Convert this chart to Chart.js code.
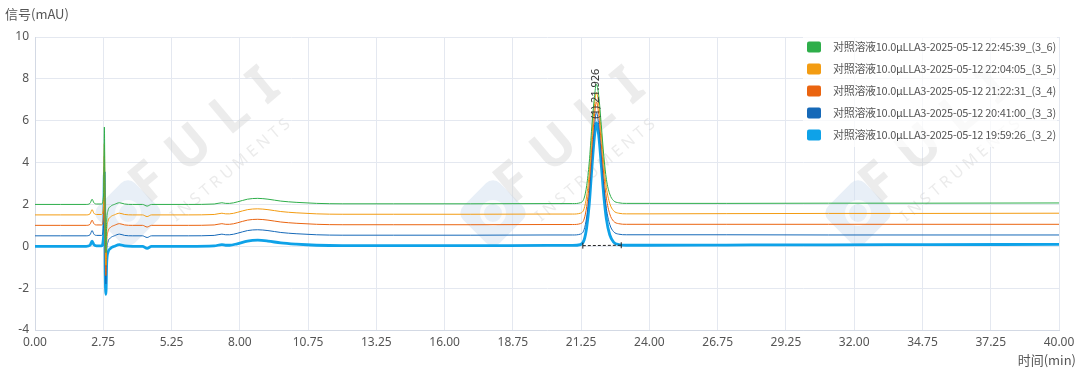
<!DOCTYPE html>
<html>
<head>
<meta charset="utf-8">
<script src="https://cdn.jsdelivr.net/npm/chart.js@4.4.1/dist/chart.umd.min.js"></script>
<style>
html,body{margin:0;padding:0;background:#fff;}
#wrap{position:relative;width:1080px;height:371px;}
</style>
</head>
<body>
<div id="wrap"><canvas id="c"></canvas></div>
<script>
// ---- data ----
const times = [0, 1.0, 2.0, 2.15, 2.23, 2.3, 2.4, 2.6, 2.68, 2.71, 2.74, 2.77, 2.8, 2.85, 2.95, 3.1, 3.3, 3.5, 3.8, 4.2, 4.38, 4.55, 5.0, 6.0, 7.0, 7.3, 7.45, 7.6, 7.9, 8.3, 8.7, 9.1, 9.6, 10.2, 11.0, 12.0, 14.0, 17.0, 20.0, 21.0, 21.3, 21.45, 21.55, 21.65, 21.75, 21.85, 21.93, 22.02, 22.12, 22.22, 22.32, 22.45, 22.6, 22.8, 23.1, 24.0, 27.0, 31.0, 35.0, 40.0];

const run3_6 = [2.0, 2.0, 2.0, 2.05, 2.25, 2.08, 2.02, 2.02, 2.5, 5.7, 1.2, -0.3, 1.2, 1.7, 1.9, 2.0, 2.08, 2.02, 2.0, 2.0, 1.92, 2.0, 2.0, 2.0, 2.02, 2.08, 2.05, 2.05, 2.12, 2.25, 2.29, 2.25, 2.16, 2.1, 2.05, 2.03, 2.03, 2.03, 2.04, 2.04, 2.08, 2.3, 2.9, 4.0, 5.7, 7.1, 7.75, 7.2, 5.8, 4.3, 3.2, 2.5, 2.18, 2.08, 2.05, 2.05, 2.05, 2.06, 2.06, 2.07];
const run3_5 = [1.5, 1.5, 1.5, 1.55, 1.75, 1.58, 1.52, 1.52, 2.0, 4.9, 0.6, -0.9, 0.7, 1.2, 1.4, 1.5, 1.58, 1.52, 1.5, 1.5, 1.42, 1.5, 1.5, 1.5, 1.52, 1.58, 1.55, 1.55, 1.62, 1.75, 1.79, 1.75, 1.66, 1.6, 1.55, 1.53, 1.53, 1.53, 1.54, 1.54, 1.58, 1.8, 2.4, 3.5, 5.2, 6.7, 7.35, 6.8, 5.4, 3.9, 2.8, 2.05, 1.7, 1.58, 1.55, 1.55, 1.56, 1.57, 1.57, 1.58];
const run3_4 = [1.0, 1.0, 1.0, 1.05, 1.25, 1.08, 1.02, 1.02, 1.5, 4.3, 0.0, -1.4, 0.2, 0.7, 0.9, 1.0, 1.08, 1.02, 1.0, 1.0, 0.92, 1.0, 1.0, 1.0, 1.02, 1.08, 1.05, 1.05, 1.12, 1.25, 1.29, 1.25, 1.16, 1.1, 1.05, 1.03, 1.03, 1.03, 1.04, 1.04, 1.08, 1.3, 1.9, 3.0, 4.7, 6.2, 6.9, 6.3, 4.9, 3.4, 2.3, 1.55, 1.2, 1.08, 1.05, 1.05, 1.05, 1.05, 1.05, 1.05];
const run3_3 = [0.5, 0.5, 0.5, 0.55, 0.75, 0.58, 0.52, 0.52, 1.0, 3.8, -0.5, -1.8, -0.3, 0.2, 0.4, 0.5, 0.58, 0.52, 0.5, 0.5, 0.42, 0.5, 0.5, 0.5, 0.52, 0.58, 0.55, 0.55, 0.62, 0.75, 0.79, 0.75, 0.66, 0.6, 0.55, 0.53, 0.53, 0.53, 0.54, 0.54, 0.58, 0.8, 1.4, 2.5, 4.2, 5.7, 6.4, 5.8, 4.4, 2.9, 1.8, 1.05, 0.7, 0.58, 0.55, 0.55, 0.55, 0.54, 0.54, 0.54];
const run3_2 = [0.0, 0.0, 0.0, 0.05, 0.25, 0.08, 0.02, 0.02, 0.5, 3.5, -1.0, -2.3, -0.8, -0.3, -0.1, 0.0, 0.08, 0.02, 0.0, 0.0, -0.1, 0.0, 0.0, 0.0, 0.02, 0.08, 0.05, 0.05, 0.12, 0.25, 0.29, 0.25, 0.16, 0.1, 0.05, 0.03, 0.03, 0.03, 0.04, 0.04, 0.08, 0.3, 0.9, 2.0, 3.7, 5.2, 5.9, 5.3, 3.9, 2.4, 1.3, 0.55, 0.2, 0.08, 0.05, 0.05, 0.06, 0.07, 0.08, 0.09];

const seriesNames = [
  '对照溶液10.0μLLA3-2025-05-12 22:45:39_(3_6)',
  '对照溶液10.0μLLA3-2025-05-12 22:04:05_(3_5)',
  '对照溶液10.0μLLA3-2025-05-12 21:22:31_(3_4)',
  '对照溶液10.0μLLA3-2025-05-12 20:41:00_(3_3)',
  '对照溶液10.0μLLA3-2025-05-12 19:59:26_(3_2)'
];
const seriesColors = ['#2eae4a', '#f39c12', '#ea6410', '#1669b8', '#0ea2e8'];
const seriesWidths = [1, 1, 1, 1, 2.8];
const seriesValues = [run3_6, run3_5, run3_4, run3_3, run3_2];

const xTickLabels = ['0.00','2.75','5.25','8.00','10.75','13.25','16.00','18.75','21.25','24.00','26.75','29.25','32.00','34.75','37.25','40.00'];
const yTicks = [-4, -2, 0, 2, 4, 6, 8, 10];
const peakLabel = '(1) 21.926';
const peakTime = 21.926;
const peakTopValue = 5.9;
const integrationStart = [21.4, 0.03];
const integrationEnd = [22.9, 0.05];

const FONT = '"Noto Sans", "Noto Sans CJK SC", sans-serif';

// ---- plugins ----
const decor = {
  id: 'decor',
  beforeDatasetsDraw(chart) {
    const ctx = chart.ctx, a = chart.chartArea;
    ctx.save();
    ctx.beginPath(); ctx.rect(a.left, a.top, a.right - a.left, a.bottom - a.top); ctx.clip();
    [0, 365, 730].forEach(dx => {
      // icon
      ctx.save();
      ctx.translate(128 + dx, 213);
      ctx.rotate(Math.PI / 4);
      ctx.fillStyle = 'rgba(210,224,240,0.5)';
      const s = 52, r = 10;
      ctx.beginPath();
      ctx.moveTo(-s/2 + r, -s/2);
      ctx.arcTo(s/2, -s/2, s/2, s/2, r);
      ctx.arcTo(s/2, s/2, -s/2, s/2, r);
      ctx.arcTo(-s/2, s/2, -s/2, -s/2, r);
      ctx.arcTo(-s/2, -s/2, s/2, -s/2, r);
      ctx.closePath(); ctx.fill();
      ctx.rotate(-Math.PI / 4);
      ctx.strokeStyle = 'rgba(255,255,255,0.8)';
      ctx.lineWidth = 4;
      ctx.beginPath(); ctx.arc(0, 0, 11, 0, Math.PI * 2); ctx.stroke();
      ctx.restore();
      // FULI
      ctx.save();
      ctx.translate(148 + dx, 205);
      ctx.rotate(-40 * Math.PI / 180);
      ctx.fillStyle = 'rgba(210,210,210,0.42)';
      ctx.font = 'bold 54px ' + FONT;
      ctx.letterSpacing = '18px';
      ctx.textBaseline = 'alphabetic';
      ctx.fillText('FULI', 0, 0);
      ctx.restore();
      // INSTRUMENTS
      ctx.save();
      ctx.translate(176 + dx, 222);
      ctx.rotate(-40 * Math.PI / 180);
      ctx.fillStyle = 'rgba(210,210,210,0.45)';
      ctx.font = '16px ' + FONT;
      ctx.letterSpacing = '4px';
      ctx.fillText('INSTRUMENTS', 0, 0);
      ctx.restore();
    });
    ctx.restore();
  },
  afterDatasetsDraw(chart) {
    const ctx = chart.ctx, xs = chart.scales.x, ys = chart.scales.y;
    ctx.save();
    // integration baseline
    const x1 = xs.getPixelForValue(integrationStart[0]), y1 = ys.getPixelForValue(integrationStart[1]);
    const x2 = xs.getPixelForValue(integrationEnd[0]), y2 = ys.getPixelForValue(integrationEnd[1]);
    ctx.strokeStyle = '#222'; ctx.lineWidth = 1;
    ctx.setLineDash([3, 2]);
    ctx.beginPath(); ctx.moveTo(x1, y1); ctx.lineTo(x2, y2); ctx.stroke();
    ctx.setLineDash([]);
    ctx.beginPath(); ctx.moveTo(x1, y1 - 3); ctx.lineTo(x1, y1 + 3); ctx.moveTo(x2, y2 - 3); ctx.lineTo(x2, y2 + 3); ctx.stroke();
    // peak label
    const px = xs.getPixelForValue(peakTime), py = ys.getPixelForValue(peakTopValue);
    ctx.translate(px, py - 4);
    ctx.rotate(-Math.PI / 2);
    ctx.fillStyle = '#333';
    ctx.font = '11px ' + FONT;
    ctx.textAlign = 'left'; ctx.textBaseline = 'middle';
    ctx.fillText(peakLabel, 0, 0);
    ctx.restore();
  },
  afterDraw(chart) {
    const ctx = chart.ctx;
    ctx.save();
    // titles
    ctx.fillStyle = '#555';
    ctx.font = '13px "Noto Sans CJK SC", ' + FONT;
    ctx.textBaseline = 'middle';
    ctx.textAlign = 'left';
    ctx.fillText('信号(mAU)', 5, 14);
    ctx.textAlign = 'right';
    ctx.fillText('时间(min)', 1076, 360);
    // legend
    ctx.fillStyle = 'rgba(255,255,255,0.75)';
    ctx.fillRect(803, 37, 254, 110);
    ctx.font = '11px "Noto Sans CJK SC", ' + FONT;
    ctx.letterSpacing = '-0.3px';
    ctx.textAlign = 'left';
    seriesNames.forEach((n, i) => {
      const cy = 47 + i * 22;
      ctx.fillStyle = seriesColors[i];
      ctx.beginPath();
      if (ctx.roundRect) ctx.roundRect(807, cy - 5.5, 14, 11, 2); else ctx.rect(807, cy - 5.5, 14, 11);
      ctx.fill();
      ctx.fillStyle = '#555';
      ctx.fillText(n, 833, cy);
    });
    ctx.restore();
  }
};

const datasets = seriesNames.map((n, i) => ({
  label: n,
  data: times.map((t, k) => ({ x: t, y: seriesValues[i][k] })),
  borderColor: seriesColors[i],
  backgroundColor: seriesColors[i],
  borderWidth: seriesWidths[i],
  pointRadius: 0,
  fill: false,
  cubicInterpolationMode: 'monotone'
}));

new Chart(document.getElementById('c'), {
  type: 'line',
  data: { datasets },
  options: {
    animation: false,
    responsive: true,
    maintainAspectRatio: false,
    layout: { padding: { top: 37, right: 21, left: 0, bottom: 0 } },
    plugins: { legend: { display: false }, tooltip: { enabled: false } },
    scales: {
      x: {
        type: 'linear', min: 0, max: 40,
        afterBuildTicks(s) { s.ticks = xTickLabels.map((l, i) => ({ value: i * 40 / (xTickLabels.length - 1) })); },
        afterFit(s) { s.height = 41; },
        ticks: {
          autoSkip: false, maxRotation: 0, padding: 5,
          color: '#555', font: { family: FONT, size: 12 },
          callback: (v, i) => xTickLabels[i]
        },
        grid: { color: '#e4e8f0', drawTicks: false },
        border: { color: '#d3d9e4' }
      },
      y: {
        type: 'linear', min: -4, max: 10,
        afterBuildTicks(s) { s.ticks = yTicks.map(v => ({ value: v })); },
        afterFit(s) { s.width = 35; },
        ticks: { padding: 6, color: '#555', font: { family: FONT, size: 12 } },
        grid: { color: '#e4e8f0', drawTicks: false },
        border: { color: '#d3d9e4' }
      }
    }
  },
  plugins: [decor]
});
</script>
</body>
</html>
